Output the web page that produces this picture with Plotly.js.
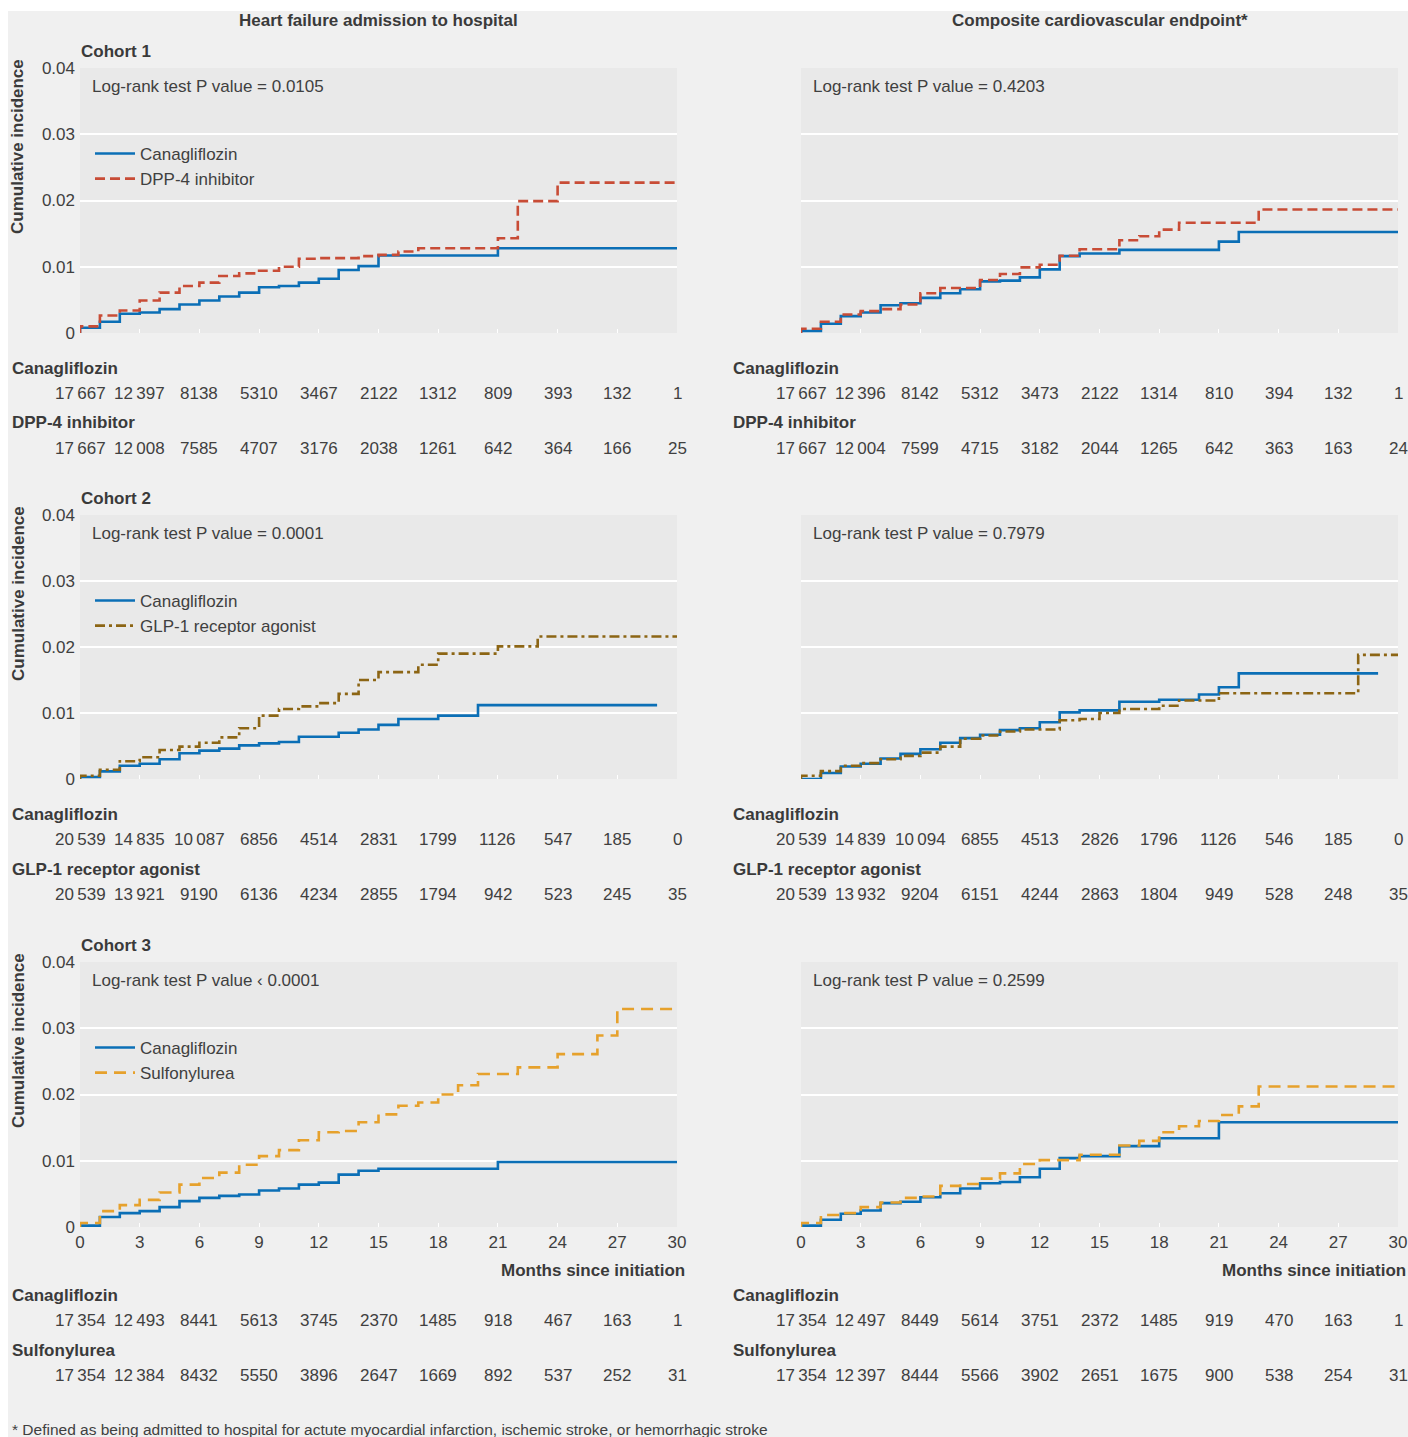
<!DOCTYPE html>
<html>
<head>
<meta charset="utf-8">
<script src="https://cdn.plot.ly/plotly-3.0.1.min.js"></script>
<style>html,body{margin:0;padding:0;background:#fff;}#chart{width:1408px;height:1437px;}</style>
</head>
<body>
<div id="chart"></div>
<script>
// ---------------- DATA ----------------
const months = [0, 3, 6, 9, 12, 15, 18, 21, 24, 27, 30];
const monthLabels = ["0", "3", "6", "9", "12", "15", "18", "21", "24", "27", "30"];
const yTickVals = [0, 0.01, 0.02, 0.03, 0.04];
const yTickText = ["0", "0.01", "0.02", "0.03", "0.04"];

const columnTitles = ["Heart failure admission to hospital", "Composite cardiovascular endpoint*"];
const cohortNames = ["Cohort 1", "Cohort 2", "Cohort 3"];
const comparators = ["DPP-4 inhibitor", "GLP-1 receptor agonist", "Sulfonylurea"];
const pValueTexts = [
  ["Log-rank test P value = 0.0105", "Log-rank test P value = 0.4203"],
  ["Log-rank test P value = 0.0001", "Log-rank test P value = 0.7979"],
  ["Log-rank test P value \u2039 0.0001", "Log-rank test P value = 0.2599"]
];

// Cohort 1 - heart failure
const c1hfCanaT = [0,0,1,2,3,4,5,6,7,8,9,10,11,12,13,14,15,21,30];
const c1hfCanaY = [0,0.0008,0.0017,0.0029,0.0031,0.0036,0.0043,0.0049,0.0055,0.0061,0.0069,0.0071,0.0076,0.0082,0.0095,0.0101,0.0117,0.0128,0.0128];
const c1hfCompT = [0,0,1,2,3,4,5,6,7,8,9,10,11,12,14,15,16,17,21,22,24,30];
const c1hfCompY = [0,0.001,0.00265,0.0034,0.0049,0.0061,0.0071,0.0076,0.0086,0.009,0.0094,0.01,0.0112,0.0113,0.0116,0.0118,0.0123,0.0128,0.0143,0.0199,0.0227,0.0227];
// Cohort 1 - composite CV
const c1cvCanaT = [0,0,1,2,3,4,5,6,7,8,9,10,11,12,13,14,16,21,22,30];
const c1cvCanaY = [0,0.0003,0.0014,0.00255,0.0031,0.0042,0.0045,0.0053,0.006,0.0066,0.0078,0.0079,0.0084,0.0096,0.0116,0.012,0.01255,0.0138,0.01525,0.01525];
const c1cvCompT = [0,0,1,2,3,4,5,6,7,9,10,11,12,13,14,16,17,18,19,23,30];
const c1cvCompY = [0,0.00065,0.0017,0.0028,0.0033,0.0036,0.0043,0.006,0.0068,0.008,0.0089,0.0099,0.0103,0.01165,0.01265,0.014,0.0146,0.0156,0.01665,0.01865,0.01865];
// Cohort 2 - heart failure
const c2hfCanaT = [0,0,1,2,3,4,5,6,7,8,9,10,11,13,14,15,16,18,20,29];
const c2hfCanaY = [0,0.0003,0.00116,0.002,0.0023,0.003,0.0039,0.0043,0.0046,0.0051,0.0054,0.0056,0.0064,0.007,0.0075,0.0082,0.0091,0.0096,0.0112,0.0112];
const c2hfCompT = [0,0,1,2,3,4,5,6,7,8,9,10,11,12,13,14,15,17,18,21,23,30];
const c2hfCompY = [0,0.0005,0.0014,0.0027,0.0033,0.0044,0.0049,0.0055,0.0063,0.0077,0.0096,0.0106,0.011,0.0115,0.0129,0.015,0.0162,0.0173,0.019,0.0201,0.0216,0.0216];
// Cohort 2 - composite CV
const c2cvCanaT = [0,1,2,3,4,5,6,7,8,9,10,11,12,13,14,16,18,20,21,22,29];
const c2cvCanaY = [0,0.0009,0.0019,0.0023,0.0031,0.0038,0.0045,0.0055,0.0062,0.0067,0.0074,0.0077,0.0086,0.0101,0.0104,0.0117,0.012,0.0128,0.0139,0.016,0.016];
const c2cvCompT = [0,0,1,2,3,4,5,6,7,8,9,10,11,13,14,15,16,18,19,21,28,30];
const c2cvCompY = [0,0.0005,0.0012,0.002,0.0024,0.003,0.0035,0.004,0.0049,0.0061,0.0066,0.0072,0.0075,0.0089,0.0091,0.01,0.0106,0.0111,0.0119,0.013,0.0188,0.0188];
// Cohort 3 - heart failure
const c3hfCanaT = [0,0,1,2,3,4,5,6,7,8,9,10,11,12,13,14,15,21,30];
const c3hfCanaY = [0,0.0002,0.0015,0.0021,0.0024,0.003,0.0039,0.0044,0.0047,0.0049,0.0055,0.0058,0.0064,0.0067,0.0079,0.0085,0.0088,0.0098,0.0098];
const c3hfCompT = [0,0,1,2,3,4,5,6,7,8,9,10,11,12,13,14,15,16,17,18,19,20,22,24,26,27,30];
const c3hfCompY = [0,0.0006,0.0024,0.0033,0.0041,0.0052,0.0064,0.0074,0.0082,0.0094,0.0107,0.0116,0.0131,0.0143,0.0145,0.0158,0.017,0.0183,0.0188,0.02,0.0214,0.0231,0.0241,0.0261,0.0289,0.0329,0.0329];
// Cohort 3 - composite CV
const c3cvCanaT = [0,0,1,2,3,4,5,6,7,8,9,10,11,12,13,14,16,18,21,30];
const c3cvCanaY = [0,0.0002,0.0011,0.002,0.0025,0.0036,0.0038,0.0045,0.0051,0.0058,0.0066,0.0068,0.0075,0.0088,0.0104,0.0107,0.0122,0.0134,0.0158,0.0158];
const c3cvCompT = [0,0,1,2,3,4,5,6,7,8,9,10,11,12,14,16,17,18,19,20,21,22,23,30];
const c3cvCompY = [0,0.0006,0.0018,0.0021,0.003,0.0037,0.0044,0.0046,0.0062,0.0065,0.0073,0.0081,0.0095,0.0101,0.0109,0.0123,0.013,0.0143,0.0152,0.016,0.0169,0.0182,0.0212,0.0212];

// Numbers at risk
const risk1hfCana = [17667,12397,8138,5310,3467,2122,1312,809,393,132,1];
const risk1hfComp = [17667,12008,7585,4707,3176,2038,1261,642,364,166,25];
const risk1cvCana = [17667,12396,8142,5312,3473,2122,1314,810,394,132,1];
const risk1cvComp = [17667,12004,7599,4715,3182,2044,1265,642,363,163,24];
const risk2hfCana = [20539,14835,10087,6856,4514,2831,1799,1126,547,185,0];
const risk2hfComp = [20539,13921,9190,6136,4234,2855,1794,942,523,245,35];
const risk2cvCana = [20539,14839,10094,6855,4513,2826,1796,1126,546,185,0];
const risk2cvComp = [20539,13932,9204,6151,4244,2863,1804,949,528,248,35];
const risk3hfCana = [17354,12493,8441,5613,3745,2370,1485,918,467,163,1];
const risk3hfComp = [17354,12384,8432,5550,3896,2647,1669,892,537,252,31];
const risk3cvCana = [17354,12497,8449,5614,3751,2372,1485,919,470,163,1];
const risk3cvComp = [17354,12397,8444,5566,3902,2651,1675,900,538,254,31];

const footnote = "* Defined as being admitted to hospital for actute myocardial infarction, ischemic stroke, or hemorrhagic stroke";

// ---------------- LAYOUT / STYLE ----------------
const W = 1408, H = 1437;
const FONT = "Liberation Sans, Arial, sans-serif";
const TXT = "#404040";
const PAPER = "#f0f0f0", PLOTBG = "#e9e9e9";
const BLUE = "#0b6fb6";
const compColors = ["#c84c36", "#8c6514", "#e6a12c"];
const compDash = ["10px,5px", "10px,4px,3px,4px", "12px,7px"];
const colX = [[80, 677], [801, 1398]];
const rowY = [[68, 333], [515, 779], [962, 1227]];
const px = v => v / W;
const py = v => 1 - v / H;

const series = [
  [[c1hfCanaT, c1hfCanaY, c1hfCompT, c1hfCompY], [c1cvCanaT, c1cvCanaY, c1cvCompT, c1cvCompY]],
  [[c2hfCanaT, c2hfCanaY, c2hfCompT, c2hfCompY], [c2cvCanaT, c2cvCanaY, c2cvCompT, c2cvCompY]],
  [[c3hfCanaT, c3hfCanaY, c3hfCompT, c3hfCompY], [c3cvCanaT, c3cvCanaY, c3cvCompT, c3cvCompY]]
];
const risks = [
  [[risk1hfCana, risk1hfComp], [risk1cvCana, risk1cvComp]],
  [[risk2hfCana, risk2hfComp], [risk2cvCana, risk2cvComp]],
  [[risk3hfCana, risk3hfComp], [risk3cvCana, risk3cvComp]]
];

function fmt(n) {
  const s = String(n);
  return n >= 10000 ? s.slice(0, s.length - 3) + "\u2009" + s.slice(-3) : s;
}

const traces = [];
const annotations = [];
const layout = {
  width: W, height: H, autosize: false,
  margin: {l: 0, r: 0, t: 0, b: 0, pad: 0},
  paper_bgcolor: PAPER, plot_bgcolor: PLOTBG,
  font: {family: FONT, size: 17, color: TXT},
  hovermode: false,
  shapes: [
    {type: "rect", xref: "paper", yref: "paper", x0: 0, x1: px(8), y0: 0, y1: 1, fillcolor: "#ffffff", line: {width: 0}, layer: "below"},
    {type: "rect", xref: "paper", yref: "paper", x0: 0, x1: 1, y0: py(11), y1: 1, fillcolor: "#ffffff", line: {width: 0}, layer: "below"}
  ],
  annotations: annotations
};

for (let r = 0; r < 3; r++) {
  const legendName = r === 0 ? "legend" : "legend" + (r + 1);
  layout[legendName] = {
    x: px(90), xanchor: "left", y: py(rowY[r][0] + 68), yanchor: "top",
    bgcolor: "rgba(0,0,0,0)", borderwidth: 0,
    font: {family: FONT, size: 17, color: TXT},
    itemwidth: 40, tracegroupgap: 0
  };
  for (let c = 0; c < 2; c++) {
    const idx = r * 2 + c + 1;
    const xa = "xaxis" + (idx === 1 ? "" : idx);
    const ya = "yaxis" + (idx === 1 ? "" : idx);
    const xr = "x" + (idx === 1 ? "" : idx);
    const yr = "y" + (idx === 1 ? "" : idx);
    layout[xa] = {
      domain: [px(colX[c][0]), px(colX[c][1])], anchor: yr,
      range: [0, 30], tickmode: "array", tickvals: months, ticktext: monthLabels,
      ticks: "inside", ticklen: 4, tickwidth: 1, tickcolor: "#ffffff",
      showticklabels: r === 2, showgrid: false, zeroline: false, showline: false,
      ticklabelstandoff: 3,
      tickfont: {family: FONT, size: 17, color: TXT}, fixedrange: true
    };
    layout[ya] = {
      domain: [py(rowY[r][1]), py(rowY[r][0])], anchor: xr,
      range: [0, 0.04], tickmode: "array", tickvals: yTickVals, ticktext: yTickText,
      ticks: "", showticklabels: c === 0, showgrid: false, zeroline: false, showline: false,
      ticklabelstandoff: 4,
      minor: {tickmode: "array", tickvals: [0.01, 0.02, 0.03], showgrid: true, gridcolor: "#ffffff", gridwidth: 2, ticks: ""},
      tickfont: {family: FONT, size: 17, color: TXT}, fixedrange: true
    };
    const s = series[r][c];
    traces.push({
      type: "scatter", mode: "lines", x: s[0], y: s[1], xaxis: xr, yaxis: yr,
      line: {shape: "hv", color: BLUE, width: 2.6},
      name: "Canagliflozin", showlegend: c === 0, legend: legendName
    });
    traces.push({
      type: "scatter", mode: "lines", x: s[2], y: s[3], xaxis: xr, yaxis: yr,
      line: {shape: "hv", color: compColors[r], width: 2.6, dash: compDash[r]},
      name: comparators[r], showlegend: c === 0, legend: legendName
    });

    // P value text
    annotations.push({xref: "paper", yref: "paper", x: px(colX[c][0] + 10), y: py(rowY[r][0] + 18),
      xanchor: "left", yanchor: "middle", showarrow: false, text: pValueTexts[r][c],
      font: {family: FONT, size: 17, color: TXT}});

    // Numbers at risk
    const bottom = rowY[r][1];
    const off = r === 2 ? 33 : 0;
    const labY = [bottom + 35 + off, bottom + 90 + off];
    const numY = [bottom + 60 + off, bottom + 115 + off];
    const groupNames = ["Canagliflozin", comparators[r]];
    for (let g = 0; g < 2; g++) {
      annotations.push({xref: "paper", yref: "paper", x: px(colX[c][0] - 70), y: py(labY[g]),
        xanchor: "left", yanchor: "middle", showarrow: false, text: "<b>" + groupNames[g] + "</b>",
        font: {family: FONT, size: 17, color: "#3a3a3a"}});
      const vals = risks[r][c][g];
      for (let i = 0; i < vals.length; i++) {
        annotations.push({xref: xr, yref: "paper", x: months[i], y: py(numY[g]),
          xanchor: "center", yanchor: "middle", showarrow: false, text: fmt(vals[i]),
          font: {family: FONT, size: 17, color: TXT}});
      }
    }
    if (r === 2) {
      annotations.push({xref: "paper", yref: "paper", x: px(colX[c][1] + 10), y: py(1270),
        xanchor: "right", yanchor: "middle", showarrow: false, text: "<b>Months since initiation</b>",
        font: {family: FONT, size: 17, color: "#3a3a3a"}});
    }
  }
  // cohort label
  annotations.push({xref: "paper", yref: "paper", x: px(79), y: py(rowY[r][0] - 17),
    xanchor: "left", yanchor: "middle", showarrow: false, text: "<b>" + cohortNames[r] + "</b>",
    font: {family: FONT, size: 17, color: "#3a3a3a"}});
  // y title
  annotations.push({xref: "paper", yref: "paper", x: px(18), y: py(rowY[r][0] + 79),
    xanchor: "center", yanchor: "middle", showarrow: false, textangle: -90,
    text: "<b>Cumulative incidence</b>", font: {family: FONT, size: 17, color: "#3a3a3a"}});
}
for (let c = 0; c < 2; c++) {
  annotations.push({xref: "paper", yref: "paper", x: px((colX[c][0] + colX[c][1]) / 2), y: py(20),
    xanchor: "center", yanchor: "middle", showarrow: false, text: "<b>" + columnTitles[c] + "</b>",
    font: {family: FONT, size: 17, color: "#3a3a3a"}});
}
annotations.push({xref: "paper", yref: "paper", x: px(10), y: py(1429),
  xanchor: "left", yanchor: "middle", showarrow: false, text: footnote,
  font: {family: FONT, size: 15.5, color: TXT}});

Plotly.newPlot("chart", traces, layout, {displayModeBar: false, staticPlot: true});
</script>
</body>
</html>
